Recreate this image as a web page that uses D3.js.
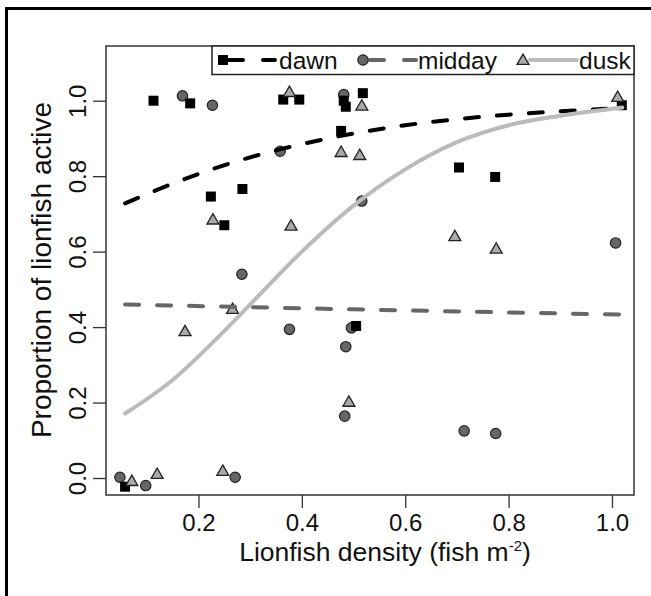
<!DOCTYPE html>
<html>
<head>
<meta charset="utf-8">
<script src="https://cdn.jsdelivr.net/npm/d3@7"></script>
<style>
    body { margin: 0; background: #fff; }
    svg { display: block; font-family: "Liberation Sans", Arial, sans-serif; }
</style>
</head>
<body>
<svg width="651" height="596"></svg>
<script>
var dawnX = [0.113, 0.184, 0.224, 0.250, 0.285, 0.364, 0.395, 0.481, 0.485, 0.518, 0.476, 0.505, 0.704, 0.774, 1.019, 0.058];
var dawnY = [1.000, 0.993, 0.746, 0.670, 0.766, 1.003, 1.003, 1.000, 0.984, 1.020, 0.920, 0.403, 0.823, 0.798, 0.988, -0.023];

var middayX = [0.169, 0.227, 0.358, 0.481, 0.516, 0.284, 0.376, 0.496, 0.485, 0.483, 0.714, 0.775, 1.007, 0.048, 0.098, 0.271];
var middayY = [1.013, 0.988, 0.866, 1.016, 0.734, 0.540, 0.394, 0.398, 0.348, 0.164, 0.125, 0.118, 0.623, 0.002, -0.020, 0.002];

var duskX = [0.376, 0.516, 0.476, 0.512, 0.228, 0.379, 0.266, 0.174, 0.696, 0.776, 1.011, 0.491, 0.071, 0.120, 0.247];
var duskY = [1.023, 0.987, 0.864, 0.856, 0.685, 0.669, 0.448, 0.389, 0.641, 0.608, 1.010, 0.202, -0.008, 0.011, 0.019];

// fitted curves
var dawnFitX = [0.058, 0.2, 0.3, 0.4, 0.5, 0.6, 0.7, 0.8, 0.9, 1.02];
var dawnFitY = [0.728, 0.806, 0.850, 0.885, 0.913, 0.935, 0.951, 0.963, 0.972, 0.981];
var middayFitX = [0.058, 0.5, 1.02];
var middayFitY = [0.460, 0.447, 0.433];
var duskFitX = [0.058, 0.15, 0.25, 0.3, 0.4, 0.5, 0.6, 0.7, 0.8, 0.9, 1.02];
var duskFitY = [0.171, 0.260, 0.390, 0.460, 0.600, 0.722, 0.818, 0.890, 0.935, 0.960, 0.982];

var xTicks = [0.2, 0.4, 0.6, 0.8, 1.0];
var yTicks = [0.0, 0.2, 0.4, 0.6, 0.8, 1.0];
var legendNames = ['dawn', 'midday', 'dusk'];

var svg = d3.select('svg');
var plotLeft = 106, plotRight = 634, plotTop = 46, plotBottom = 495;

var x = d3.scaleLinear().domain([0.0211, 1.0426]).range([plotLeft, plotRight]);
var y = d3.scaleLinear().domain([-0.045, 1.145]).range([plotBottom, plotTop]);

// outer frame (cut at right/bottom in the source)
svg.append('rect')
    .attr('x', 6.5).attr('y', 8.5)
    .attr('width', 700).attr('height', 700)
    .attr('fill', 'none')
    .attr('stroke', '#000')
    .attr('stroke-width', 3);

function zip(xs, ys) {
    return xs.map(function(v, i) { return [v, ys[i]]; });
}

var tri = d3.symbol().type(d3.symbolTriangle).size(62);

function drawSquare(g, px, py) {
    g.append('rect')
        .attr('x', px - 5).attr('y', py - 5)
        .attr('width', 10).attr('height', 10)
        .attr('fill', '#000');
}
function drawCircle(g, px, py) {
    g.append('circle')
        .attr('cx', px).attr('cy', py).attr('r', 5.2)
        .attr('fill', '#666')
        .attr('stroke', '#222')
        .attr('stroke-width', 1.2);
}
function drawTriangle(g, px, py) {
    g.append('path')
        .attr('d', tri)
        .attr('transform', 'translate(' + px + ',' + (py + 1) + ')')
        .attr('fill', '#aaa')
        .attr('stroke', '#222')
        .attr('stroke-width', 1.3);
}

var pts = svg.append('g');
zip(middayX, middayY).forEach(function(d) { drawCircle(pts, x(d[0]), y(d[1])); });
zip(dawnX, dawnY).forEach(function(d) { drawSquare(pts, x(d[0]), y(d[1])); });
zip(duskX, duskY).forEach(function(d) { drawTriangle(pts, x(d[0]), y(d[1])); });

var line = d3.line()
    .x(function(d) { return x(d[0]); })
    .y(function(d) { return y(d[1]); })
    .curve(d3.curveMonotoneX);

var fits = [
    { pts: zip(dawnFitX, dawnFitY), color: '#000', dash: '14,18' },
    { pts: zip(middayFitX, middayFitY), color: '#666', dash: '14,18' },
    { pts: zip(duskFitX, duskFitY), color: '#bbb', dash: null }
];
fits.forEach(function(f) {
    svg.append('path')
        .attr('d', line(f.pts))
        .attr('fill', 'none')
        .attr('stroke', f.color)
        .attr('stroke-width', 4)
        .attr('stroke-linecap', 'round')
        .attr('stroke-dasharray', f.dash);
});

// axes
var xAxis = svg.append('g')
    .attr('transform', 'translate(0,' + plotBottom + ')')
    .call(d3.axisBottom(x).tickValues(xTicks).tickSize(13).tickPadding(0).tickFormat(d3.format('.1f')));
var yAxis = svg.append('g')
    .attr('transform', 'translate(' + plotLeft + ',0)')
    .call(d3.axisLeft(y).tickValues(yTicks).tickSize(13).tickPadding(5).tickFormat(d3.format('.1f')));
[xAxis, yAxis].forEach(function(a) {
    a.select('.domain').remove();
    a.selectAll('line').attr('stroke', '#333').attr('stroke-width', 1.3);
    a.selectAll('text').attr('font-size', 24).attr('fill', '#111').attr('font-family', null);
});
xAxis.selectAll('text').attr('dy', '0.95em');
// y labels run parallel to the axis
yAxis.selectAll('.tick text')
    .attr('x', 0).attr('y', -20)
    .attr('dy', null)
    .attr('text-anchor', 'middle')
    .attr('transform', 'rotate(-90)');

svg.append('rect')
    .attr('x', plotLeft).attr('y', plotTop)
    .attr('width', plotRight - plotLeft).attr('height', plotBottom - plotTop)
    .attr('fill', 'none')
    .attr('stroke', '#333')
    .attr('stroke-width', 1.5);

// axis titles
var xTitle = svg.append('text')
    .attr('x', 385).attr('y', 561)
    .attr('text-anchor', 'middle')
    .attr('font-size', 26.5)
    .attr('fill', '#111');
xTitle.append('tspan').text('Lionfish density (fish m');
xTitle.append('tspan').attr('font-size', 15).attr('dy', -10).text('-2');
xTitle.append('tspan').attr('dy', 10).text(')');

svg.append('text')
    .attr('transform', 'translate(51,270) rotate(-90)')
    .attr('text-anchor', 'middle')
    .attr('font-size', 28)
    .attr('fill', '#111')
    .text('Proportion of lionfish active');

// legend
var leg = svg.append('g');
leg.append('rect')
    .attr('x', 212).attr('y', plotTop)
    .attr('width', plotRight - 212).attr('height', 28.5)
    .attr('fill', '#fff')
    .attr('stroke', '#222')
    .attr('stroke-width', 1.5);

var legItems = [
    { sx: 223, lx1: 229, lx2: 275, tx: 279, color: '#000', dash: '14,20', draw: drawSquare },
    { sx: 363, lx1: 370, lx2: 416, tx: 418, color: '#666', dash: '14,20', draw: drawCircle },
    { sx: 523, lx1: 530, lx2: 577, tx: 579, color: '#bbb', dash: null, draw: drawTriangle }
];
var ly = plotTop + 14;
legItems.forEach(function(it, i) {
    leg.append('line')
        .attr('x1', it.lx1).attr('x2', it.lx2)
        .attr('y1', ly).attr('y2', ly)
        .attr('stroke', it.color)
        .attr('stroke-width', 4)
        .attr('stroke-linecap', 'round')
        .attr('stroke-dasharray', it.dash);
    it.draw(leg, it.sx, ly);
    leg.append('text')
        .attr('x', it.tx).attr('y', ly + 8.5)
        .attr('font-size', 24.5)
        .attr('fill', '#111')
        .text(legendNames[i]);
});
</script>
</body>
</html>
